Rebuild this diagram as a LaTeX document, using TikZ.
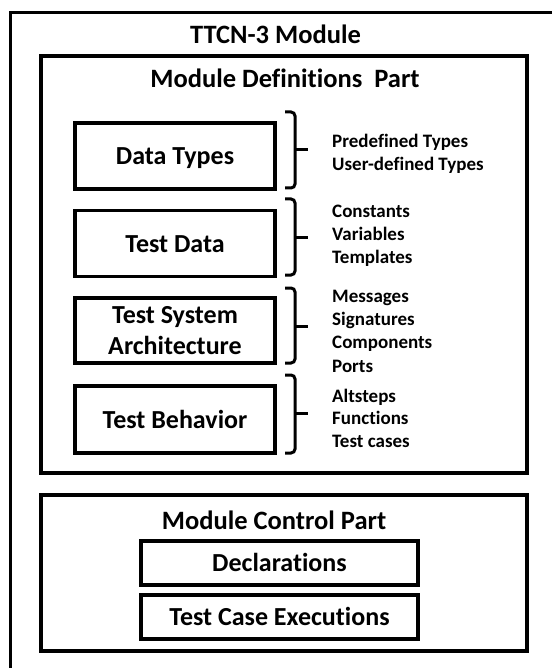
\documentclass[tikz,border=0pt]{standalone}
\usepackage{fontspec}
\setmainfont[Ligatures=NoCommon]{Carlito}
\begin{document}
\begin{tikzpicture}[x=1pt,y=-1pt,
  frame/.style={line width=3pt},
  bigbox/.style={draw, line width=3.5pt, inner sep=0pt},
  itembox/.style={draw, line width=3.2pt, inner sep=0pt, minimum width=200pt,
     minimum height=66pt, font=\bfseries\fontsize{26}{31}\selectfont,
     text height=17pt, text depth=0pt},
  ctrlbox/.style={draw, line width=3.2pt, inner sep=0pt, minimum width=277pt,
     minimum height=44pt, font=\bfseries\fontsize{26}{31}\selectfont,
     text height=17pt, text depth=0pt},
  heading/.style={font=\bfseries\fontsize{26.5}{31}\selectfont, anchor=base, inner sep=0pt},
  item/.style={font=\bfseries\fontsize{19}{23}\selectfont, anchor=base west, inner sep=0pt},
  bracestyle/.style={line width=3pt, rounded corners=4pt}
]
\useasboundingbox (0,0) rectangle (552,668);
\fill[white] (0,0) rectangle (552,668);

% outer frame (cropped at right and bottom)
\coordinate (oTR) at (552,13);
\coordinate (oTL) at (10,13);
\coordinate (oBL) at (10,668);
\draw[frame] (oTR) -- (oTL) -- (oBL);
\node[heading] (ttcn) at (275.5,44) {TTCN-3 Module};

% module definitions part
\node[bigbox, minimum width=486pt, minimum height=417pt] (defs) at (284,264.5) {};
\node[heading] (defstitle) at (285,88) {Module Definitions\ \ Part};

\node[itembox] (dt) at (175,156) {Data Types};
\node[itembox] (td) at (175,243.5) {Test Data};
\node[itembox, minimum height=65pt, text height=, text depth=, align=center] (tsa) at (175,330.5) {Test System\\Architecture};
\node[itembox, minimum height=67pt] (tb) at (175,419.5) {Test Behavior};

% braces
\coordinate (bx) at (295,0);
\coordinate (b1t) at (285,112); \coordinate (b1b) at (285,188); \coordinate (b1m) at (308,150);
\coordinate (b2t) at (285,199); \coordinate (b2b) at (285,275); \coordinate (b2m) at (308,237);
\coordinate (b3t) at (285,288); \coordinate (b3b) at (285,363); \coordinate (b3m) at (308,326);
\coordinate (b4t) at (285,375); \coordinate (b4b) at (285,453); \coordinate (b4m) at (308,413);
\foreach \t/\b/\m in {b1t/b1b/b1m, b2t/b2b/b2m, b3t/b3b/b3m, b4t/b4b/b4m}{
  \draw[bracestyle] (\t) -- (bx |- \t) -- (bx |- \b) -- (\b);
  \draw[line width=3pt] (bx |- \m) -- (\m);
}

% item lists
\node[item] (l1) at (332,148) {Predefined Types};
\node[item] (l2) at (332,171) {User-defined Types};
\node[item] (l3) at (332,217) {Constants};
\node[item] (l4) at (332,240) {Variables};
\node[item] (l5) at (332,263) {Templates};
\node[item] (l6) at (332,302) {Messages};
\node[item] (l7) at (332,325) {Signatures};
\node[item] (l8) at (332,348) {Components};
\node[item] (l9) at (332,372) {Ports};
\node[item] (l10) at (332,402) {Altsteps};
\node[item] (l11) at (332,424) {Functions};
\node[item] (l12) at (332,447) {Test cases};

% module control part
\node[bigbox, minimum width=486pt, minimum height=156pt] (ctrl) at (284,573) {};
\node[heading] (ctrltitle) at (274,529) {Module Control Part};
\node[ctrlbox] (decl) at (279.5,563) {Declarations};
\node[ctrlbox] (tce) at (279.5,617) {Test Case Executions};
\end{tikzpicture}
\end{document}
